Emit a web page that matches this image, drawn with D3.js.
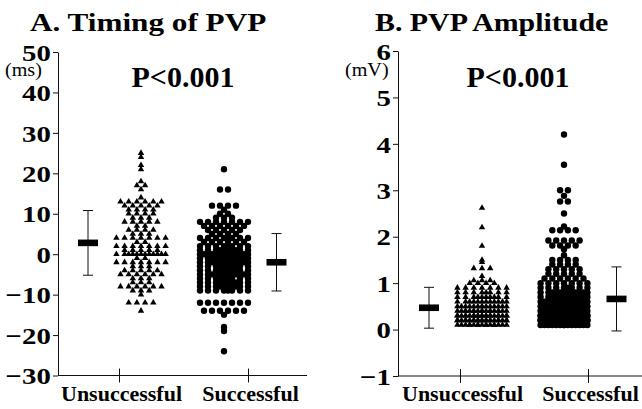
<!DOCTYPE html>
<html>
<head>
<meta charset="utf-8">
<script src="https://cdn.jsdelivr.net/npm/d3@7"></script>
<style>
  body { margin: 0; background: #fff; }
  svg { display: block; }
</style>
</head>
<body>
<div id="chart"></div>
<script>
var groups = ["Unsuccessful", "Successful"];

// timing of PVP (ms): [value, how many points sit on that row]
var timingUnsuccessful = [[25,1],[24,1],[22,1],[21,1],[18,1],[17,2],[16,1],[14,1],[13,6],[12,5],[11,4],[10,4],[9,3],[8,5],[7,2],[6,4],[5,3],[4,7],[3,2],[2,7],[1,5],[0,12],[-1,2],[-2,7],[-3,3],[-4,5],[-5,6],[-6,3],[-7,3],[-8,6],[-9,3],[-10,1],[-12,4],[-14,1]];
var timingSuccessful = [[21,1],[16,2],[12,4],[11,1],[10,2],[9,3],[8,7],[7,6],[6,5],[5,4],[4,8],[3,6],[2,8],[1,10],[0,14],[-1,12],[-2,12],[-3,10],[-4,10],[-5,12],[-6,9],[-7,10],[-8,10],[-9,8],[-12,7],[-14,6],[-15,1],[-18,1],[-19,1],[-24,1]];
var timingMean = [2.8, -2.0];
var timingSD = [8.0, 7.1];
var timingTicks = [50, 40, 30, 20, 10, 0, -10, -20, -30];

// PVP amplitude (mV)
var ampUnsuccessful = [[2.62,1],[2.2,1],[1.8,1],[1.5,1],[1.45,1],[1.32,3],[1.15,1],[1.06,3],[1.0,4],[0.9,7],[0.8,8],[0.7,10],[0.6,12],[0.5,14],[0.4,18],[0.3,22],[0.2,22],[0.1,17]];
var ampSuccessful = [[4.2,1],[3.55,1],[3.0,2],[2.88,1],[2.76,2],[2.5,1],[2.22,1],[2.14,4],[1.92,5],[1.81,4],[1.73,1],[1.6,1],[1.5,4],[1.4,4],[1.3,5],[1.2,5],[1.1,6],[1.0,7],[0.9,8],[0.8,12],[0.7,12],[0.6,14],[0.5,16],[0.4,18],[0.3,20],[0.2,20],[0.1,14]];
var ampMean = [0.47, 0.66];
var ampSD = [0.44, 0.69];
var ampTicks = [6, 5, 4, 3, 2, 1, 0, -1];

var width = 642, height = 409;
var serif = "'Liberation Serif', 'Times New Roman', serif";

var svg = d3.select("#chart").append("svg")
    .attr("width", width)
    .attr("height", height)
    .style("background", "#fff");

var panels = [
    {title: "A. Timing of PVP", titleX: 30, titleSx: 1.2, unit: "(ms)", unitX: 5,
     left: 58, right: 307, top: 52, bottom: 375.5, ticks: timingTicks,
     domain: [-30, 50], catRange: [119, 248], pX: 183,
     rows: [timingUnsuccessful, timingSuccessful], mean: timingMean, sd: timingSD,
     shapes: ["triangle", "circle"], spacing: [8.2, 8]},
    {title: "B. PVP Amplitude", titleX: 375, titleSx: 1.15, unit: "(mV)", unitX: 345,
     left: 398, right: 642, top: 51, bottom: 376, ticks: ampTicks,
     domain: [-1, 6], catRange: [460, 588], pX: 518,
     rows: [ampUnsuccessful, ampSuccessful], mean: ampMean, sd: ampSD,
     shapes: ["triangle", "circle"], spacing: [8.2, 7.8]}
];

// cloud of points sits inside the ticks, mean bar outside
var cloudOff = [22, -24];
var meanOff = [-31, 28.5];

function label(g, x, y, str, size, weight, anchor, sx) {
    return g.append("text")
        .attr("transform", "translate(" + x + "," + y + ") scale(" + (sx || 1) + ",1)")
        .attr("text-anchor", anchor || "start")
        .style("font-family", serif)
        .style("font-size", size + "px")
        .style("font-weight", weight || "bold")
        .style("fill", "#000")
        .text(str);
}

// spread the points of one row across up to 7 columns, extra ones in shifted layers
function layoutRows(rows, sp) {
    var pts = [];
    rows.forEach(function (r) {
        var left = r[1], layer = 0;
        while (left > 0) {
            var cap = layer % 2 === 0 ? 7 : 6;
            var k = Math.min(cap, left);
            var shift = (layer % 2 === 1 && k % 2 === 1) ? sp / 2 : 0;
            for (var i = 0; i < k; i++) {
                pts.push({value: r[0], dx: (i - (k - 1) / 2) * sp + shift});
            }
            left -= k;
            layer++;
        }
    });
    return pts;
}

panels.forEach(function (p) {
    var g = svg.append("g");

    var y = d3.scaleLinear().domain(p.domain).range([p.bottom, p.top]);
    var x = d3.scalePoint().domain(groups).range(p.catRange);

    label(g, p.titleX, 31, p.title, 26, "bold", "start", p.titleSx);
    label(g, p.pX, 87, "P<0.001", 30, "bold", "middle", 1);
    label(g, p.unitX, 75.5, p.unit, 19, "normal", "start", 1.06);

    // y axis
    var ya = g.append("g")
        .attr("transform", "translate(" + p.left + ",0)")
        .call(d3.axisLeft(y).tickValues(p.ticks).tickFormat(d3.format("d"))
            .tickSize(5).tickSizeOuter(0).tickPadding(1));
    ya.select(".domain").attr("stroke", "#111");
    ya.selectAll(".tick line").attr("stroke", "#111");
    ya.selectAll(".tick text")
        .attr("transform", "scale(1.2,1)")
        .attr("dy", "0.34em")
        .style("font-family", serif)
        .style("font-size", "24px")
        .style("font-weight", "bold")
        .attr("fill", "#000");

    // x axis
    g.append("line")
        .attr("x1", p.left).attr("x2", p.right)
        .attr("y1", y(p.domain[0])).attr("y2", y(p.domain[0]))
        .attr("stroke", "#111");
    var xa = g.append("g")
        .attr("transform", "translate(0," + y(p.domain[0]) + ")")
        .call(d3.axisBottom(x).tickSize(7));
    xa.select(".domain").remove();
    xa.selectAll(".tick line").attr("y1", -7).attr("stroke", "#111");
    xa.selectAll(".tick text")
        .attr("x", 2)
        .attr("y", 25)
        .attr("dy", 0)
        .style("font-family", serif)
        .style("font-size", "22px")
        .style("font-weight", "bold")
        .attr("fill", "#000");

    groups.forEach(function (grp, gi) {
        var cx = x(grp) + cloudOff[gi];
        var pts = layoutRows(p.rows[gi], p.spacing[gi]);

        if (p.shapes[gi] === "triangle") {
            g.append("g").selectAll("path")
                .data(pts)
                .enter().append("path")
                .attr("d", d3.symbol().type(d3.symbolTriangle).size(18))
                .attr("transform", function (d) {
                    return "translate(" + (cx + d.dx) + "," + y(d.value) + ")";
                })
                .attr("fill", "#000");
        } else {
            g.append("g").selectAll("circle")
                .data(pts)
                .enter().append("circle")
                .attr("cx", function (d) { return cx + d.dx; })
                .attr("cy", function (d) { return y(d.value); })
                .attr("r", 3.2)
                .attr("fill", "#000");
        }

        // mean +- SD
        var mx = x(grp) + meanOff[gi];
        var m = p.mean[gi], s = p.sd[gi];
        var eb = g.append("g").attr("stroke", "#111").attr("stroke-width", 1);
        eb.append("line").attr("x1", mx).attr("x2", mx).attr("y1", y(m + s)).attr("y2", y(m - s));
        eb.append("line").attr("x1", mx - 5).attr("x2", mx + 5).attr("y1", y(m + s)).attr("y2", y(m + s));
        eb.append("line").attr("x1", mx - 5).attr("x2", mx + 5).attr("y1", y(m - s)).attr("y2", y(m - s));
        g.append("rect")
            .attr("x", mx - 10).attr("width", 20)
            .attr("y", y(m) - 3.3).attr("height", 6.6)
            .attr("fill", "#000");
    });
});
</script>
</body>
</html>
